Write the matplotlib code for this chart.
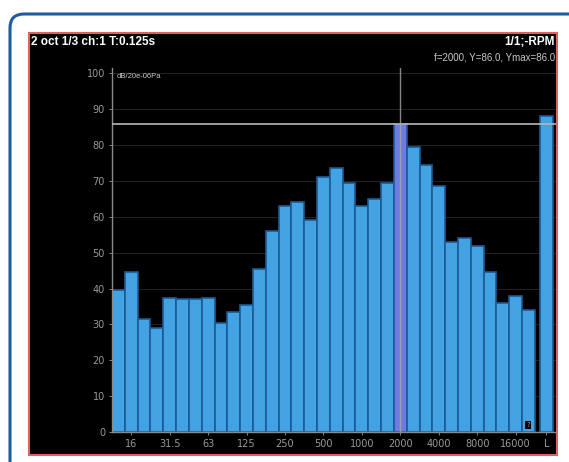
import matplotlib.pyplot as plt
import numpy as np
from matplotlib.patches import FancyBboxPatch, Rectangle
from matplotlib.transforms import IdentityTransform

# 1/3 octave band levels, dB re 20e-06 Pa
bands = ['12.5', '16', '20', '25', '31.5', '40', '50', '63', '80', '100',
         '125', '160', '200', '250', '315', '400', '500', '630', '800', '1000',
         '1250', '1600', '2000', '2500', '3150', '4000', '5000', '6300', '8000',
         '10000', '12500', '16000', '20000']
levels = [39.5, 44.5, 31.5, 29, 37.5, 37, 37, 37.5, 30.5, 33.5,
          35.5, 45.5, 56, 63, 64, 59, 71, 73.5, 69.5, 63,
          65, 69.5, 86, 79.5, 74.5, 68.5, 53, 54, 52,
          44.5, 36, 38, 34]
level_L = 88
tick_labels = ['16', '31.5', '63', '125', '250', '500', '1000', '2000',
               '4000', '8000', '16000']
cursor_band = '2000'

W, H = 569, 462
fig = plt.figure(figsize=(W / 100, H / 100), dpi=100)
fig.patch.set_facecolor('white')

def box(x0, y0, x1, y1):
    # pixel box (top-left origin) -> display coords
    return x0, H - y1, x1 - x0, y1 - y0

# outer blue rounded frame
x, y, w, h = box(10, 14, 620, 520)
fig.add_artist(FancyBboxPatch((x, y), w, h, boxstyle='round,pad=0,rounding_size=14',
                              transform=IdentityTransform(), facecolor='white',
                              edgecolor='#1f5c9c', linewidth=2.2, zorder=-3))
# black instrument panel
x, y, w, h = box(29, 33, 557, 455)
fig.add_artist(Rectangle((x, y), w, h, transform=IdentityTransform(),
                         facecolor='black', edgecolor='#e06060', linewidth=1.5, zorder=-2))

ax = fig.add_axes([112 / W, (H - 432) / H, (556 - 112) / W, (432 - 68) / H])
ax.set_facecolor('black')

pos = np.arange(len(bands))
colors = ['#6f7be0' if b == cursor_band else '#42a2e2' for b in bands]
ax.bar(pos, levels, width=1.0, color=colors, edgecolor='#1b5a94', linewidth=1.2, zorder=2)
pos_L = len(bands) + 0.4
ax.bar([pos_L], [level_L], width=1.0, color='#42a2e2', edgecolor='#1b5a94',
       linewidth=1.2, zorder=2)

ax.set_xlim(-0.5, pos_L + 0.75)
ax.set_ylim(0, 101.5)

ax.set_yticks(np.arange(0, 101, 10))
ax.set_yticklabels([str(v) for v in range(0, 101, 10)])
ax.grid(axis='y', color='#242424', linewidth=0.7, zorder=1)
ax.set_axisbelow(True)

xt = [bands.index(t) for t in tick_labels] + [pos_L]
ax.set_xticks(xt)
ax.set_xticklabels(tick_labels + ['L'])
ax.tick_params(colors='#9a9a9a', labelsize=7, length=2, width=0.6, pad=3)
for s in ['top', 'right']:
    ax.spines[s].set_visible(False)
for s in ['left', 'bottom']:
    ax.spines[s].set_color('#8a8a8a')
    ax.spines[s].set_linewidth(1.0)

# cursor
ic = bands.index(cursor_band)
ax.axhline(levels[ic], color='#b8b8b8', linewidth=1.2, zorder=4)
ax.axvline(ic, color='#a8a8a8', linewidth=1.0, alpha=0.8, zorder=4)

ax.text(0.01, 0.985, 'dB/20e-06Pa', transform=ax.transAxes, color='#c8c8c8',
        fontsize=5.5, ha='left', va='top', family='Liberation Sans')
ax.text(pos[-1], 1.2, '?', color='#9a9a9a', fontsize=5, ha='center', va='bottom',
        zorder=5, bbox=dict(facecolor='black', edgecolor='none', pad=0.8))

fig.text(31 / W, 1 - 42 / H, '2 oct 1/3 ch:1 T:0.125s', color='white', fontsize=8.5,
         fontweight='bold', family='Liberation Sans', ha='left', va='center')
fig.text(555 / W, 1 - 42 / H, '1/1;-RPM', color='white', fontsize=8.5,
         fontweight='bold', family='Liberation Sans', ha='right', va='center')
fig.text(555 / W, 1 - 57 / H, 'f=2000, Y=86.0, Ymax=86.0', color='#c8c8c8', fontsize=7,
         family='Liberation Sans', ha='right', va='center')

fig.savefig('out.png', dpi=100, facecolor='white')
